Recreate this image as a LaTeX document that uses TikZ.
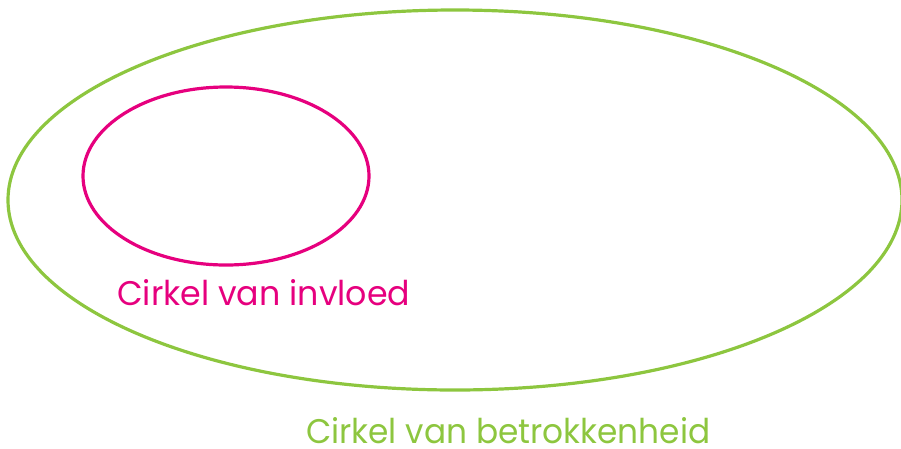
\documentclass[tikz,border=0pt]{standalone}
\usepackage{fontspec}
\setmainfont{Poppins}
\definecolor{infl}{HTML}{E6007E}
\definecolor{betr}{HTML}{8DC63F}
\begin{document}
\begin{tikzpicture}[x=1pt,y=-1pt,
  ring/.style={line width=3.2pt},
  lbl/.style={inner sep=0pt, anchor=base west, font=\fontsize{29}{32}\selectfont}]
\useasboundingbox (0,0) rectangle (901,448);
% outer circle of concern
\draw[ring, betr] (455,200) ellipse [x radius=447, y radius=190];
% inner circle of influence
\draw[ring, infl] (226,176) ellipse [x radius=143, y radius=89];
\node[lbl, text=infl] (invloed) at (117,305) {\resizebox{293pt}{26pt}{Cirkel van invloed}};
\node[lbl, text=betr] (betrokken) at (306,443) {\resizebox{404pt}{26pt}{Cirkel van betrokkenheid}};
\end{tikzpicture}
\end{document}
